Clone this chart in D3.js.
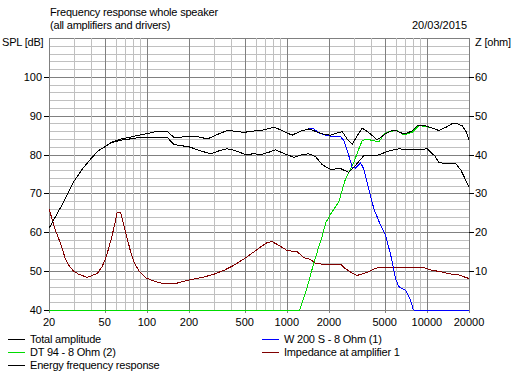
<!DOCTYPE html>
<html>
<head>
<meta charset="utf-8">
<script src="https://cdn.jsdelivr.net/npm/d3@7"></script>
<style>
  body { margin: 0; background: #fff; }
  text { font-family: "Liberation Sans", Arial, sans-serif; font-size: 11px; fill: #000; }
</style>
</head>
<body>
<div id="chart"></div>
<script>
// Values
var totalFreq = [20,25,30,35,40,45,50,56,65,75,85,100,120,140,156,175,200,240,270,320,375,430,492,560,648,730,807,900,1000,1092,1250,1436,1650,1850,2050,2250,2483,2700,2929,3200,3451,3900,4419,5000,5600,5971,6843,7800,8530,9018,10050,11000,12170,14000,15400,16020,17870,19000,20000];
var totalDb   = [61,67.3,73,76.5,79,81,82,83.2,84,84.4,84.9,85.4,86,86,84.4,84.5,84.7,84.5,84,85.2,86.2,86,85.7,86,86.2,86.6,87,86.4,85.6,85,86,86.6,85.8,85.2,85,85.5,85.9,84,82.7,85,86.8,85.5,83.8,85.2,86.2,86.2,85.3,86,87.4,87.6,87.3,86.8,86.2,87.2,88.1,88.1,87.4,86,83.8];

var energyFreq = [20,25,30,35,40,45,50,56,65,75,85,100,120,140,156,175,200,240,285,330,375,430,507,580,648,730,830,950,1122,1300,1436,1600,1788,2050,2417,2769,3090,3546,4298,5000,5350,6310,7300,8531,10050,11500,12170,13210,15400,16020,17500,20000];
var energyDb   = [61,67.3,73,76.5,79,81,82,83.1,83.7,84,84.3,84.4,84.5,84.4,82.6,82.3,82,81,80.2,81,81.5,81,80,80.2,80,80.5,81.2,80.3,79.3,80,80.2,79.5,77.4,76.2,76.4,75.4,77.2,79.7,79.7,80.5,80.9,81.5,81.2,81.2,81.5,79.5,77.9,77.8,77.8,77.8,76,71.7];

var wooferFreq = [20,25,30,35,40,45,50,56,65,75,85,100,120,140,156,175,200,240,270,320,375,430,492,560,648,730,807,900,1000,1092,1250,1436,1560,1700,1836,2164,2417,2553,2769,2929,3090,3358,3546,3846,4178,4668,5070,5500,5971,6310,7040,7640,7980,8100,20000];
var wooferDb   = [61,67.3,73,76.5,79,81,82,83.2,84,84.4,84.9,85.4,86,86,84.4,84.5,84.7,84.5,84,85.2,86.2,86,85.7,86,86.2,86.6,87,86.4,85.6,85,86,86.6,86.6,85.6,85.1,84.6,84.6,83.6,79.7,76.7,76.5,77.9,76.3,71.2,66.1,61.8,59.2,54.4,48.1,46,45.1,42.6,40.2,40,40];

var tweeterFreq = [20,1237,1300,1397,1559,1788,1900,2050,2350,2625,3008,3177,3451,3750,4080,4540,5000,5350,6100,6843,7856,8755,9780,10500,11000,12170,14000,15400,16020,17870,19000,20000];
var tweeterDb   = [40,40,42.5,45.8,52.2,59,62.5,64.6,67.8,73.8,78,80.3,83.6,84,83.6,83.3,85.4,85.9,86.2,85.1,85.7,87.4,87.3,87,86.8,86.2,87.2,88.1,88.1,87.4,86,83.8];

var impFreq = [20,22,24.2,26,27.7,30,32.6,37.5,44.2,48,50.7,53.5,56.5,59,61.4,64.9,68.5,72.4,76.5,80.7,88,97.8,115,132,160,199,250,301,360,418,521,648,720,785,880,1005,1186,1320,1476,1600,1788,2100,2417,2625,2900,3177,3750,4300,4668,9018,9400,10620,12800,13970,16920,20000];
var impOhm  = [26.1,21,17.1,13.5,11.5,10,9.2,8.4,9.4,11.2,13.3,16,19.2,22.2,25.2,25.2,21.8,18.4,15,12.4,10,8.3,7.3,6.8,6.8,7.7,8.4,9.2,10.3,11.5,13.7,16.2,17.3,17.6,16.6,15.3,15,13.5,13,12,11.8,11.8,11.8,10.6,9.6,8.9,9.7,10.7,11,11,11,10.3,9.8,9.4,9,8.1];

var dbTicks = [40,50,60,70,80,90,100];
var ohmTicks = [10,20,30,40,50,60];
var freqTicks = [20,50,100,200,500,1000,2000,5000,10000,20000];
var freqMinor = [30,40,60,70,80,90,300,400,600,700,800,900,3000,4000,6000,7000,8000,9000];

var legendItems = [
  {label: "Total amplitude", color: "#000000"},
  {label: "W 200 S - 8 Ohm (1)", color: "#0000ff"},
  {label: "DT 94 - 8 Ohm (2)", color: "#00dc00"},
  {label: "Impedance at amplifier 1", color: "#800000"},
  {label: "Energy frequency response", color: "#000000"}
];

var svgWidth = 516;
var svgHeight = 373;

var svg = d3.select("#chart")
  .append("svg")
  .attr("width", svgWidth)
  .attr("height", svgHeight);

// Scales
var x = d3.scaleLog().domain([20, 20000]).range([49, 469]);
var y = d3.scaleLinear().domain([40, 110]).range([310, 38]);
var yZ = d3.scaleLinear().domain([0, 70]).range([310, 38]);

// Grid
var grid = svg.append("g").attr("shape-rendering", "crispEdges");

// horizontal: light every 2 dB, dark every 10 dB
d3.range(40, 111, 2).forEach(function (v) {
  grid.append("line")
    .attr("x1", x(20)).attr("x2", x(20000))
    .attr("y1", Math.round(y(v)) + 0.5).attr("y2", Math.round(y(v)) + 0.5)
    .attr("stroke", v % 10 === 0 ? "#808080" : "#c0c0c0");
});
// vertical
freqMinor.forEach(function (f) {
  grid.append("line")
    .attr("x1", Math.round(x(f)) + 0.5).attr("x2", Math.round(x(f)) + 0.5)
    .attr("y1", y(110)).attr("y2", y(40))
    .attr("stroke", "#c0c0c0");
});
freqTicks.forEach(function (f) {
  grid.append("line")
    .attr("x1", Math.round(x(f)) + 0.5).attr("x2", Math.round(x(f)) + 0.5)
    .attr("y1", y(110)).attr("y2", y(40) + 3)
    .attr("stroke", "#808080");
});

// Axes
var leftAxis = d3.axisLeft(y).tickValues(dbTicks).tickSize(5).tickPadding(2);
var rightAxis = d3.axisRight(yZ).tickValues(ohmTicks).tickSize(5).tickPadding(1);

var gl = svg.append("g").attr("transform", "translate(49,0)").call(leftAxis);
var gr = svg.append("g").attr("transform", "translate(469,0)").call(rightAxis);
[gl, gr].forEach(function (g) {
  g.select(".domain").remove();
  g.selectAll("line").attr("stroke", "#000").attr("shape-rendering", "crispEdges");
  g.selectAll("text").style("font-size", "11px").attr("font-family", null);
});

svg.append("g").selectAll("text")
  .data(freqTicks)
  .enter()
  .append("text")
  .attr("x", d => x(d))
  .attr("y", 326)
  .style("text-anchor", "middle")
  .text(d => d);

// Curves
var line = d3.line()
  .x(d => x(d[0]))
  .y(d => d[2] ? yZ(d[1]) : y(d[1]));

function pairs(fs, vs, z) {
  return fs.map(function (f, i) { return [f, vs[i], z]; });
}

var series = [
  {data: pairs(impFreq, impOhm, true), color: "#800000"},
  {data: pairs(tweeterFreq, tweeterDb, false), color: "#00dc00"},
  {data: pairs(wooferFreq, wooferDb, false), color: "#0000ff"},
  {data: pairs(energyFreq, energyDb, false), color: "#000000"},
  {data: pairs(totalFreq, totalDb, false), color: "#000000"}
];

svg.append("g").selectAll("path")
  .data(series)
  .enter()
  .append("path")
  .attr("d", d => line(d.data))
  .attr("fill", "none")
  .attr("stroke", d => d.color)
  .attr("stroke-width", 1)
  .attr("shape-rendering", "crispEdges");

// Titles
svg.append("text").attr("x", 50).attr("y", 16).style("letter-spacing", "-0.2px").text("Frequency response whole speaker");
svg.append("text").attr("x", 50).attr("y", 29).style("letter-spacing", "-0.2px").text("(all amplifiers and drivers)");
svg.append("text").attr("x", 2).attr("y", 46).style("letter-spacing", "-0.2px").text("SPL [dB]");
svg.append("text").attr("x", 412).attr("y", 29).text("20/03/2015");
svg.append("text").attr("x", 475).attr("y", 46).style("letter-spacing", "-0.2px").text("Z [ohm]");

// Legend
var legendPos = [[8, 339], [262, 339], [8, 352], [262, 352], [8, 365]];
var legend = svg.append("g").selectAll("g")
  .data(legendItems)
  .enter()
  .append("g")
  .attr("transform", (d, i) => `translate(${legendPos[i][0]}, ${legendPos[i][1]})`);

legend.append("line")
  .attr("x1", 0).attr("x2", 17)
  .attr("y1", 0.5).attr("y2", 0.5)
  .attr("stroke", d => d.color)
  .attr("shape-rendering", "crispEdges");

legend.append("text")
  .attr("x", 22)
  .attr("y", 4)
  .style("letter-spacing", "-0.2px")
  .text(d => d.label);
</script>
</body>
</html>
